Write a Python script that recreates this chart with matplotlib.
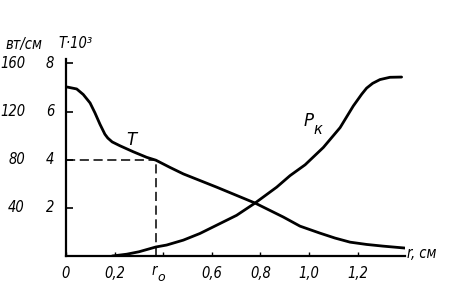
import matplotlib
matplotlib.use("Agg")
import matplotlib.pyplot as plt
import matplotlib.transforms as mtransforms

# ---- data ----
# radius r, cm ; T in units of 10^3 (drawn on P-scale: 20 W/cm per 1 unit of T)
r_T = [0.005, 0.044, 0.071, 0.099, 0.119, 0.14, 0.16, 0.172, 0.19, 0.222, 0.277,
       0.332, 0.37, 0.428, 0.483, 0.62, 0.778, 0.894, 0.963, 1.045, 1.107,
       1.169, 1.237, 1.305, 1.395]
T_vals = [7.02, 6.94, 6.71, 6.36, 5.95, 5.47, 5.06, 4.9, 4.74, 4.58, 4.33,
          4.10, 3.98, 3.68, 3.41, 2.86, 2.2, 1.62, 1.24, 0.95, 0.745,
          0.575, 0.48, 0.41, 0.33]
# radius r, cm ; power P_K, W/cm
r_P = [0.19, 0.25, 0.30, 0.37, 0.414, 0.483, 0.551, 0.62, 0.702, 0.778,
       0.867, 0.922, 0.984, 1.059, 1.128, 1.182, 1.217, 1.237, 1.262, 1.292,
       1.333, 1.381]
P_vals = [0.0, 1.5, 3.5, 7.5, 9.1, 13.2, 18.7, 25.6, 33.8, 44.0,
          57.2, 66.8, 75.8, 90.2, 106.7, 124.6, 134.5, 139.5, 143.5, 146.6,
          148.5, 148.7]
r0 = 0.37
T_r0 = 4.0

x_ticks = [0, 0.2, 0.4, 0.6, 0.8, 1.0, 1.2]
x_ticklabels = ["0", "0,2", "", "0,6", "0,8", "1,0", "1,2"]
P_ticks = [40, 80, 120, 160]
T_ticks = [2, 4, 6, 8]

FAM = ["DejaVu Sans"]
FS = 10.5
TXT = dict(fontstyle="italic", family=FAM, fontsize=FS, fontstretch="condensed")

fig = plt.figure(figsize=(4.53, 2.89), dpi=100)
ax = fig.add_axes([66 / 453, 33 / 289, 339 / 453, 197 / 289])
ax.set_xlim(0, 1.395)
ax.set_ylim(0, 163.7)

for s in ["top", "right"]:
    ax.spines[s].set_visible(False)
for s in ["left", "bottom"]:
    ax.spines[s].set_linewidth(1.6)
    ax.spines[s].set_color("black")

# curves
ax.plot(r_T, [t * 20 for t in T_vals], color="black", lw=2.0,
        solid_capstyle="round", solid_joinstyle="round")
ax.plot(r_P, P_vals, color="black", lw=2.0,
        solid_capstyle="round", solid_joinstyle="round")

# dashed guides
ax.plot([0, r0], [T_r0 * 20, T_r0 * 20], color="black", lw=1.1, ls=(0, (6, 3)))
ax.plot([r0, r0], [0, T_r0 * 20], color="black", lw=1.1, ls=(0, (6, 3)))

# ticks
ax.set_xticks(x_ticks)
ax.set_xticklabels(x_ticklabels)
for lab in ax.get_xticklabels():
    lab.set_fontstyle("italic")
    lab.set_fontsize(FS)
    lab.set_fontstretch("condensed")
ax.tick_params(axis="x", direction="in", length=3, width=1, pad=7)
ax.set_yticks(P_ticks)
ax.set_yticklabels([])
ax.tick_params(axis="y", direction="in", length=5, width=1.2)

# x label r0
trx = mtransforms.blended_transform_factory(ax.transData, ax.transAxes)
ax.text(r0 - 0.005, -0.038, "r", transform=trx, ha="center", va="top", **TXT)
ax.text(r0 + 0.02, -0.075, "o", transform=trx, ha="center", va="top",
        fontstyle="italic", family=FAM, fontsize=FS - 1.5)

# y tick labels (two columns)
tr = mtransforms.blended_transform_factory(fig.transFigure, ax.transData)
for p, t in zip(P_ticks, T_ticks):
    ax.text(25 / 453, p, str(p), transform=tr, ha="right", va="center", **TXT)
    ax.text(50 / 453, p, str(t), transform=tr, ha="center", va="center", **TXT)

# headers
fig.text(5 / 453, 1 - 44 / 289, "вт/см", ha="left", va="center", **TXT)
fig.text(58 / 453, 1 - 44 / 289, "T·10³", ha="left", va="center", **TXT)

# curve labels
ax.text(0.267, 96.5, "T", ha="center", va="center", fontstyle="italic",
        family=FAM, fontsize=FS + 1.5)
ax.text(1.0, 112, "P", ha="center", va="center", fontstyle="italic",
        family=FAM, fontsize=FS + 1.5)
ax.text(1.035, 105, "к", ha="center", va="center", fontstyle="italic",
        family=FAM, fontsize=FS)

# axis label
fig.text(407 / 453, 1 - 253 / 289, "r, см", ha="left", va="center", **TXT)

fig.savefig("out.png", dpi=100)
